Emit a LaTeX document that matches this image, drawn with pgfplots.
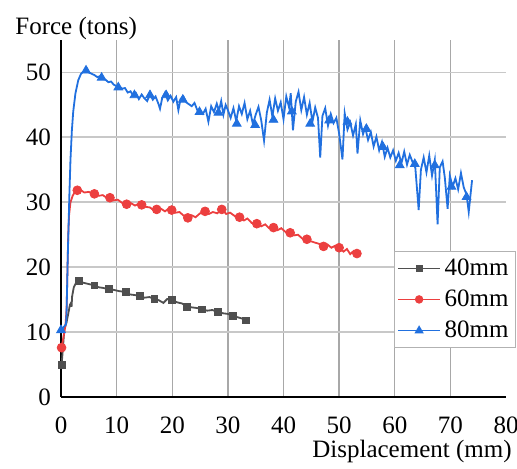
\documentclass[border=0pt]{standalone}
\usepackage{fontspec}
\setmainfont{Liberation Serif}
\newfontfamily\tnr{Liberation Serif}
\usepackage{pgfplots}
\pgfplotsset{compat=1.18}
\definecolor{cgray}{HTML}{4F4F4F}
\definecolor{cred}{HTML}{EC3F3F}
\definecolor{cblue}{HTML}{2170DF}
\definecolor{gridh}{HTML}{C8C8C8}
\definecolor{gridv}{HTML}{A8A8A8}
\newcommand\chartfont{\tnr\fontsize{12.5}{15}\selectfont}
\begin{document}
\begin{tikzpicture}[font=\chartfont]
\begin{axis}[
  scale only axis, width=222.5pt, height=178.5pt,
  xmin=0, xmax=80, ymin=0, ymax=55,
  xtick={0,10,...,70}, ytick={0,10,...,50},
  extra x ticks={80}, extra x tick style={grid=none},
  axis x line=bottom, axis y line=left,
  axis line style={-, black, line width=0.8pt},
  major tick length=0pt,
  clip=false,
  xmajorgrids, ymajorgrids,
  x grid style={gridv, line width=0.7pt},
  y grid style={gridh, line width=0.9pt},
  font=\chartfont,
  ticklabel style={font=\chartfont},
  xticklabel style={yshift=-6.2pt},
  yticklabel style={xshift=-1.5pt},
  /pgf/number format/assume math mode=true,
  legend style={at={(1.0225,0.409)}, anchor=north east, draw=gray!60,
    font=\chartfont, inner sep=1.5pt, row sep=1.8pt,
    nodes={inner sep=2pt}},
  legend cell align=left,
  legend image code/.code={\draw[mark repeat=2,mark phase=2,#1] plot coordinates {(0pt,0pt) (10.5pt,0pt) (21pt,0pt)};},
]
% 40mm
\addplot[cgray, line width=0.9pt, mark=none, legend image post style={mark=square*, mark size=1.4pt, line width=0.6pt}] coordinates {
(0.1,4.9) (0.3,7) (0.6,10.5) (1.0,11.5) (1.3,12.8) (1.6,14.2) (1.8,14.5) (1.9,13.9) (2.0,15.5) (2.3,16.9) (2.7,17.6) (3.24,17.9)
(4.0,17.6) (5.0,17.4) (6.0,17.2) (6.8,16.9) (7.6,16.8) (8.6,16.6) (9.5,16.5) (10.5,16.3) (11.6,16.2) (12.4,15.8) (13.3,15.7)
(14.2,15.6) (15.0,15.3) (15.9,15.4) (16.8,15.1) (17.6,14.9) (18.4,14.5) (19.1,15.1) (19.9,15.0) (20.8,14.6) (21.8,14.4)
(22.7,13.9) (23.6,13.8) (24.5,13.7) (25.4,13.5) (26.3,13.3) (27.2,13.4) (28.2,13.1) (29.1,12.9) (30.0,12.8) (30.9,12.5)
(31.7,12.3) (32.5,12.1) (33.3,11.8)
};
\addlegendentry{40mm}
\addplot[cgray, only marks, mark=square*, mark size=1.7pt, forget plot] coordinates {
(0.1,4.9) (3.24,17.9) (6.0,17.2) (8.6,16.6) (11.6,16.2) (14.2,15.6) (16.8,15.1) (19.9,15.0) (22.7,13.9) (25.4,13.5) (28.2,13.1) (30.9,12.5) (33.3,11.8)
};
% 60mm
\addplot[cred, line width=0.9pt, mark=none, legend image post style={mark=*, mark size=1.8pt, line width=0.6pt}] coordinates {
(0.1,7.6) (0.4,9.0) (0.8,11.0) (1.0,13.5) (1.1,17) (1.2,21) (1.3,25) (1.45,28) (1.7,30) (2.1,31.0) (2.5,31.6) (2.93,31.85)
(3.5,31.9) (4.2,31.5) (5.0,31.6) (6.0,31.3) (6.8,31.0) (7.5,31.1) (8.2,30.7) (8.8,30.7) (9.5,30.3) (10.2,30.4) (11.0,29.9)
(11.8,29.7) (12.5,29.9) (13.3,29.5) (14.0,29.8) (14.5,29.6) (15.2,29.3) (16.0,29.2) (16.6,28.8) (17.2,28.9) (18.0,29.0)
(18.7,28.6) (19.3,29.0) (19.9,28.8) (20.6,28.4) (21.3,28.5) (22.1,27.9) (22.8,27.6) (23.5,28.0) (24.2,27.7) (25.0,28.3)
(25.9,28.6) (26.6,28.2) (27.3,28.5) (28.1,28.3) (28.9,28.9) (29.7,28.2) (30.4,28.4) (31.2,27.9) (32.1,27.7) (32.9,27.2)
(33.5,27.5) (34.3,26.8) (35.2,26.7) (36.0,26.3) (36.7,26.6) (37.4,26.0) (38.2,26.1) (38.9,25.7) (39.6,26.0) (40.4,25.4)
(41.2,25.3) (41.9,24.9) (42.6,25.0) (43.4,24.4) (44.2,24.3) (44.9,24.0) (45.6,23.8) (46.4,23.6) (47.2,23.2) (47.9,23.5)
(48.6,23.0) (49.3,23.3) (50.0,23.0) (50.8,22.4) (51.4,22.8) (52.0,22.0) (52.6,22.5) (53.2,22.1) (53.5,21.9)
};
\addlegendentry{60mm}
\addplot[cred, only marks, mark=*, mark size=2.2pt, forget plot] coordinates {
(0.1,7.6) (2.93,31.85) (6.0,31.3) (8.8,30.7) (11.8,29.7) (14.5,29.6) (17.2,28.9) (19.9,28.8) (22.8,27.6) (25.9,28.6)
(28.9,28.9) (32.1,27.7) (35.2,26.7) (38.2,26.1) (41.2,25.3) (44.2,24.3) (47.2,23.2) (50.0,23.0) (53.2,22.1)
};
% 80mm
\addplot[cblue, line width=0.9pt, mark=none, legend image post style={mark=triangle*, mark size=2.1pt, line width=0.6pt}] coordinates {
(0,10.3) (0.5,10.8) (0.9,11.2) (1.0,13) (1.1,17) (1.2,21) (1.35,26) (1.5,31) (1.7,36.5) (1.95,41) (2.2,44) (2.6,46.8)
(3.1,48.8) (3.6,49.8) (4.0,50.1) (4.5,50.3)
(5.0,50.0) (5.5,49.8) (6.0,49.6) (6.5,49.3) (7.0,49.4) (7.5,49.0) (8.0,48.9) (8.5,48.5) (9.0,48.6) (9.5,48.1) (10.0,47.9)
(10.5,47.8) (11.0,47.5) (11.5,47.6) (12.0,46.9) (12.5,47.1) (13.0,46.4) (13.5,46.8) (14.0,45.9) (14.5,46.6) (15.0,46.0)
(15.5,45.6) (16.0,46.7) (16.5,45.8) (17.0,46.3) (17.5,45.2) (17.8,44.4) (18.2,46.1) (18.7,46.9) (19.2,45.7) (19.7,46.4)
(20.2,45.5) (20.7,46.2) (21.1,44.2) (21.5,45.9) (22.0,46.3) (22.5,45.4) (23.0,45.1) (23.5,44.8) (24.0,45.3) (24.5,44.2)
(25.0,44.0) (25.5,43.6) (26.0,44.4) (26.5,42.4) (27.0,44.8) (27.5,43.9) (28.0,45.2) (28.4,44.1) (28.8,45.6) (29.2,43.5)
(29.6,45.0) (30.0,44.2) (30.5,43.0) (31.0,44.5) (31.5,42.5) (32.0,44.8) (32.5,43.6) (33.0,45.3) (33.5,42.8) (34.0,44.1)
(34.5,42.0) (35.0,43.5) (35.5,44.7) (36.0,42.6) (36.5,39.5) (37.0,43.8) (37.5,45.8) (38.0,43.2) (38.5,46.0) (39.0,44.1)
(39.5,45.4) (40.0,42.8) (40.5,46.3) (41.0,44.6) (41.3,46.8) (41.7,41.1) (42.2,45.5) (42.7,47.0) (43.2,44.2) (43.7,46.2)
(44.2,43.5) (44.7,45.3) (45.2,42.4) (45.7,44.6) (46.2,43.0) (46.6,36.9) (47.0,43.3) (47.5,44.5) (48.0,41.8) (48.5,43.6)
(49.0,42.2) (49.5,43.0) (50.0,40.6) (50.6,36.6) (51.0,43.7) (51.5,41.2) (52.0,42.3) (52.5,40.3) (53.0,42.0) (53.3,37.5)
(53.8,42.6) (54.3,40.5) (54.7,41.5) (55.2,39.6) (55.7,40.8) (56.2,38.6) (56.7,40.1) (57.2,38.0) (57.7,39.3) (58.2,37.0)
(58.7,38.4) (59.2,36.9) (59.7,38.0) (60.2,36.4) (60.7,37.6) (61.2,36.0) (61.7,37.8) (62.2,35.8) (62.7,37.3) (63.2,36.2)
(63.7,35.3) (64.3,28.8) (64.7,35.0) (65.2,36.9) (65.7,34.6) (66.2,37.2) (66.7,34.1) (67.2,36.5) (67.7,26.6) (68.1,35.4)
(68.6,36.3) (69.0,33.8) (69.5,29.0) (69.9,34.1) (70.4,32.4) (70.9,33.7) (71.4,32.0) (71.9,34.5) (72.4,32.3) (72.9,31.2)
(73.3,28.5) (73.6,31.0) (73.9,33.4)
};
\addlegendentry{80mm}
\addplot[cblue, only marks, mark=triangle*, mark size=2.5pt, forget plot] coordinates {
(0,10.3) (4.5,50.3) (7.3,49.2) (10.3,47.7) (13.2,46.5) (16.0,46.5) (18.9,46.5) (21.9,45.8) (24.9,43.9) (28.3,43.8)
(31.6,42.1) (34.9,41.9) (38.2,42.7) (41.5,44.0) (44.8,42.1) (48.2,42.6) (51.5,42.4) (54.9,41.3) (57.9,38.5) (60.9,35.7)
(63.6,35.9) (67.2,35.7) (70.2,32.4) (72.9,30.8)
};
\end{axis}
\node[anchor=base east, inner sep=0pt] at (225.5pt,-30.5pt) {Displacement (mm)};
\node[anchor=base west, inner sep=0pt] at (-23pt,181.2pt) {Force (tons)};
\pgfresetboundingbox
\path[use as bounding box] (-30.5pt,-36pt) rectangle (228pt,198.5pt);
\end{tikzpicture}
\end{document}
